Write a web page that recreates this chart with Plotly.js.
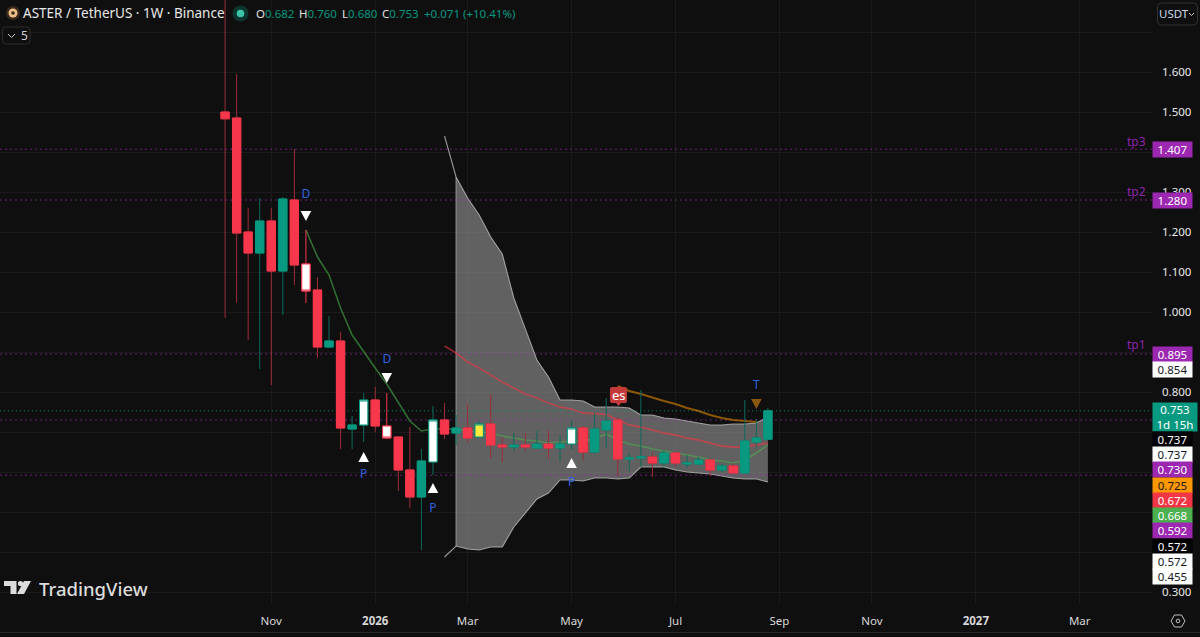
<!DOCTYPE html>
<html>
<head>
<meta charset="utf-8">
<script src="https://cdn.plot.ly/plotly-3.0.1.min.js"></script>
<style>html,body{margin:0;padding:0;background:#0f0f0f;overflow:hidden}#c{width:1200px;height:637px}</style>
</head>
<body>
<div id="c"></div>
<script>
const weeks = ["2025-10-06","2025-10-13","2025-10-20","2025-10-27","2025-11-03","2025-11-10","2025-11-17","2025-11-24","2025-12-01","2025-12-08","2025-12-15","2025-12-22","2025-12-29","2026-01-05","2026-01-12","2026-01-19","2026-01-26","2026-02-02","2026-02-09","2026-02-16","2026-02-23","2026-03-02","2026-03-09","2026-03-16","2026-03-23","2026-03-30","2026-04-06","2026-04-13","2026-04-20","2026-04-27","2026-05-04","2026-05-11","2026-05-18","2026-05-25","2026-06-01","2026-06-08","2026-06-15","2026-06-22","2026-06-29","2026-07-06","2026-07-13","2026-07-20","2026-07-27","2026-08-03","2026-08-10","2026-08-17","2026-08-24","2026-08-31"];
const opens  = [1.5,1.485,1.2,1.1475,1.2275,1.1025,1.28,1.12,1.055,0.9125,0.9275,0.7075,0.7175,0.78,0.715,0.6875,0.605,0.5375,0.625,0.73,0.6975,0.71,0.6875,0.72,0.6675,0.6625,0.6675,0.66,0.67,0.66,0.67,0.71,0.65,0.705,0.73,0.6325,0.635,0.6375,0.6225,0.6475,0.62,0.62,0.63,0.605,0.615,0.5975,0.675,0.682];
const highs  = [1.95,1.595,1.26,1.285,1.26,1.2875,1.4075,1.205,1.0875,0.99,0.95,0.74,0.7975,0.8125,0.7975,0.6875,0.7125,0.6575,0.765,0.7725,0.7425,0.77,0.7275,0.795,0.6875,0.6975,0.6975,0.7025,0.7025,0.6925,0.73,0.715,0.7475,0.785,0.7375,0.645,0.805,0.65,0.655,0.65,0.6425,0.6375,0.6325,0.62,0.6225,0.78,0.7325,0.76];
const lows   = [0.985,1.0225,0.93,0.8575,0.8175,0.9925,1.0675,1.0225,0.885,0.91,0.6575,0.6575,0.675,0.70,0.6825,0.5525,0.51,0.405,0.5925,0.6825,0.6675,0.6725,0.6875,0.635,0.625,0.6525,0.6525,0.66,0.6325,0.625,0.6575,0.63,0.645,0.66,0.59,0.6025,0.6125,0.5875,0.615,0.6125,0.61,0.62,0.59,0.60,0.5975,0.5975,0.6625,0.68];
const closes = [1.483,1.1975,1.1475,1.2275,1.1025,1.2825,1.1175,1.0525,0.9125,0.9275,0.71,0.7175,0.78,0.715,0.685,0.605,0.5375,0.6275,0.73,0.695,0.71,0.685,0.72,0.6675,0.6625,0.6675,0.6625,0.67,0.66,0.67,0.71,0.65,0.7075,0.7275,0.6325,0.635,0.6375,0.6225,0.6475,0.6225,0.6225,0.63,0.605,0.615,0.5975,0.6775,0.685,0.753];
const kinds  = ["r","r","r","t","r","t","r","wr","r","t","r","t","wt","r","wr","r","r","t","wt","r","t","r","y","r","r","t","r","t","r","t","wt","r","t","t","r","t","t","r","t","r","t","t","r","t","r","t","t","t"];

const greenLine  = [1.205,1.1375,1.0925,1.01,0.9425,0.90,0.86,0.82,0.7725,0.7275,0.7025,0.7075,0.7075,0.7075,0.7025,0.70,0.6975,0.69,0.685,0.68,0.6775,0.6725,0.675,0.6775,0.6775,0.6825,0.695,0.68,0.67,0.665,0.6575,0.6525,0.6475,0.6425,0.6375,0.63,0.6275,0.6225,0.63,0.6475,0.668];
const redLine    = [0.915,0.8975,0.875,0.86,0.8425,0.825,0.81,0.795,0.785,0.7725,0.7625,0.7575,0.7475,0.745,0.744,0.73,0.7175,0.7125,0.705,0.6975,0.6925,0.685,0.68,0.6725,0.665,0.6625,0.6625,0.6675,0.672];
const orangeLine = [0.815,0.8025,0.795,0.786,0.7775,0.77,0.76,0.7525,0.7425,0.735,0.73,0.7275,0.725];
const bandUpper  = [1.44,1.3375,1.285,1.2425,1.1875,1.145,1.035,0.955,0.88,0.8375,0.78,0.78,0.7775,0.7625,0.7625,0.7625,0.76,0.7425,0.7425,0.735,0.7325,0.7275,0.7225,0.7175,0.7175,0.72,0.72,0.7225,0.7375];
const bandLower  = [0.3875,0.415,0.4075,0.405,0.4125,0.4125,0.4625,0.4975,0.5325,0.5475,0.58,0.58,0.5775,0.585,0.585,0.5825,0.585,0.6125,0.6125,0.6125,0.605,0.60,0.5975,0.595,0.59,0.585,0.5825,0.5825,0.575];

const levelPurple = [1.407,1.28,0.895,0.73,0.592];
const levelTeal = [0.753];

const tickDates = ["2025-11-03","2026-01-05","2026-03-02","2026-05-04","2026-07-06","2026-09-07","2026-11-02","2027-01-04","2027-03-08"];
const tickNames = ["Nov","<b>2026</b>","Mar","May","Jul","Sep","Nov","<b>2027</b>","Mar"];
const priceTicks = [0.3,0.4,0.5,0.6,0.7,0.8,0.9,1.0,1.1,1.2,1.3,1.4,1.5,1.6,1.7];
const priceNames = ["0.300","","","","","0.800","","1.000","1.100","1.200","1.300","","1.500","1.600",""];

const tagText = ["1.407","1.280","0.895","0.854","0.737","0.737","0.730","0.725","0.672","0.668","0.592","0.572","0.572","0.455"];
const tagPx   = [149.5,200,354,369,439,454.5,469.5,485,500.5,515.5,530.5,546,561.5,576.5];
const tagBg   = ["#9c27b0","#9c27b0","#9c27b0","#ffffff","#000000","#ffffff","#9c27b0","#ff9800","#f23645","#4caf50","#9c27b0","#000000","#ffffff","#ffffff"];
const tagFg   = ["#fff","#fff","#fff","#131722","#fff","#131722","#fff","#131722","#fff","#fff","#fff","#fff","#131722","#131722"];
const tpNames = ["tp3","tp2","tp1"];
const tpPx    = [141,191,344];

const downIdx = [7,14], downVal = [1.24,0.835], downText = ["D","D"], downTextVal = [1.2925,0.88];
const upIdx = [12,18,30], upVal = [0.6375,0.56,0.6225], upText = ["P","P","P"], upTextVal = [0.5925,0.5075,0.5725];
const exitIdx = [46], exitVal = [0.77], exitTextVal = [0.815];

const xRange = ["2025-05-22 14:00","2027-04-20 19:00"];
const yRange = [0.2675,1.78];
const PW = 1152, PH = 605;
const fontFam = '"Noto Sans", "Open Sans", sans-serif';
const C = {r:"#f7374c", t:"#089981", wickR:"#9c2d3a", wickT:"#0d6a5b"};
const styleOf = {
  r:{fill:C.r, line:C.r, wick:C.wickR},
  t:{fill:C.t, line:C.t, wick:C.wickT},
  wr:{fill:"#ffffff", line:C.r, wick:C.r},
  wt:{fill:"#ffffff", line:C.t, wick:C.wickT},
  y:{fill:"#ffeb3b", line:C.t, wick:C.wickT}
};
function pick(arr,idx){return idx.map(function(i){return arr[i];});}
function candle(x,o,h,l,c,line,fill){
  return {type:"candlestick",xaxis:"x2",yaxis:"y2",x:x,open:o,high:h,low:l,close:c,whiskerwidth:0,hoverinfo:"skip",showlegend:false,
    increasing:{line:{color:line,width:1},fillcolor:fill},
    decreasing:{line:{color:line,width:1},fillcolor:fill}};
}
const traces = [];
// band and indicator lines on the base subplot, under the candles
traces.push({type:"scatter",mode:"none",x:weeks.slice(20,48).concat(weeks.slice(20,48).reverse()),
  y:bandUpper.slice(1).concat(bandLower.slice(1).reverse()),fill:"toself",fillcolor:"rgba(152,152,152,0.6)",hoverinfo:"skip",showlegend:false});
traces.push({type:"scatter",mode:"lines",x:[weeks[20],weeks[20]],y:[bandUpper[1],bandLower[1]],line:{color:"rgba(170,170,170,0.55)",width:1.5},hoverinfo:"skip",showlegend:false});
[bandUpper,bandLower].forEach(function(s){
  traces.push({type:"scatter",mode:"lines",x:weeks.slice(19),y:s,line:{color:"rgba(190,190,190,0.78)",width:1.1},hoverinfo:"skip",showlegend:false});
});
levelPurple.forEach(function(v){traces.push({type:"scatter",mode:"lines",x:xRange,y:[v,v],line:{color:"rgba(156,39,176,0.62)",width:1,dash:"2px,3px"},hoverinfo:"skip",showlegend:false});});
levelTeal.forEach(function(v){traces.push({type:"scatter",mode:"lines",x:xRange,y:[v,v],line:{color:"rgba(8,153,129,0.75)",width:1,dash:"1px,3px"},hoverinfo:"skip",showlegend:false});});
traces.push({type:"scatter",mode:"lines",x:weeks.slice(7),y:greenLine,line:{color:"rgba(76,175,80,0.58)",width:1.6},hoverinfo:"skip",showlegend:false});
traces.push({type:"scatter",mode:"lines",x:weeks.slice(19),y:redLine,line:{color:"rgba(242,54,69,0.58)",width:1.8},hoverinfo:"skip",showlegend:false});
traces.push({type:"scatter",mode:"lines",x:weeks.slice(34,47),y:orangeLine,line:{color:"rgba(255,152,0,0.52)",width:2},hoverinfo:"skip",showlegend:false});
// wicks then bodies, per style, on an overlaid subplot so they sit above the lines
Object.keys(styleOf).forEach(function(k){
  const idx = kinds.map(function(v,i){return v===k?i:-1;}).filter(function(i){return i>=0;});
  traces.push(candle(pick(weeks,idx),pick(opens,idx),pick(highs,idx),pick(lows,idx),pick(closes,idx),styleOf[k].wick,"rgba(0,0,0,0)"));
});
Object.keys(styleOf).forEach(function(k){
  const idx = kinds.map(function(v,i){return v===k?i:-1;}).filter(function(i){return i>=0;});
  const o = pick(opens,idx), c = pick(closes,idx);
  traces.push(candle(pick(weeks,idx),o,o.map(function(v,j){return Math.max(v,c[j]);}),o.map(function(v,j){return Math.min(v,c[j]);}),c,styleOf[k].line,styleOf[k].fill));
});
function tx(idx,val,t){return {type:"scatter",xaxis:"x2",yaxis:"y2",mode:"text",x:pick(weeks,idx),y:val,text:t,textposition:"middle center",textfont:{family:fontFam,size:12,color:"#2f62e0"},hoverinfo:"skip",showlegend:false};}
traces.push(tx(downIdx,downTextVal,downText),tx(upIdx,upTextVal,upText),tx(exitIdx,exitTextVal,["T"]));

// pixel helpers for decorations
function X(px){return px/PW;}
function Y(py){return 1-py/PH;}
function pt(px,py){return X(px)+" "+Y(py);}
function rr(x0,y0,x1,y1,r){
  return "M"+pt(x0+r,y0)+" L"+pt(x1-r,y0)+" Q"+pt(x1,y0)+" "+pt(x1,y0+r)+" L"+pt(x1,y1-r)+" Q"+pt(x1,y1)+" "+pt(x1-r,y1)+" L"+pt(x0+r,y1)+" Q"+pt(x0,y1)+" "+pt(x0,y1-r)+" L"+pt(x0,y0+r)+" Q"+pt(x0,y0)+" "+pt(x0+r,y0)+" Z";
}
function poly(p){return "M"+p.map(function(q){return pt(q[0],q[1]);}).join(" L")+" Z";}
function circle(cx,cy,r,fill,lw,lc){return {type:"circle",xref:"paper",yref:"paper",x0:X(cx-r),x1:X(cx+r),y0:Y(cy+r),y1:Y(cy-r),fillcolor:fill,line:{width:lw||0,color:lc||fill},layer:"above"};}
function pth(d,fill,lw,lc){return {type:"path",xref:"paper",yref:"paper",path:d,fillcolor:fill,line:{width:lw||0,color:lc||fill},layer:"above"};}
function tri(i,v,dir,col){
  return {type:"path",xref:"x2",yref:"y2",xsizemode:"pixel",ysizemode:"pixel",xanchor:weeks[i],yanchor:v,
    path: dir<0 ? "M -5.3 5 L 5.3 5 L 0 -5 Z" : "M -5.3 -5 L 5.3 -5 L 0 5 Z",fillcolor:col,line:{width:0},layer:"above"};
}

const shapes = [];
downIdx.forEach(function(i,j){shapes.push(tri(i,downVal[j],-1,"#ffffff"));});
upIdx.forEach(function(i,j){shapes.push(tri(i,upVal[j],1,"#ffffff"));});
exitIdx.forEach(function(i,j){shapes.push(tri(i,exitVal[j],-1,"#8a5710"));});
// bottom rule
shapes.push({type:"line",xref:"paper",yref:"paper",x0:0,x1:1200/PW,y0:Y(632.5),y1:Y(632.5),line:{color:"#2a2a2a",width:1},layer:"above"});
// es badge
shapes.push(pth(rr(610,387,627,403,2),"#c43a3a"));
shapes.push(pth(poly([[616,403],[621,403],[618.5,406]]),"#c43a3a"));
// currency + collapse buttons
shapes.push(pth(rr(1157.5,3,1197.5,25,4),"#0f0f0f",1,"#333333"));
shapes.push(pth(rr(2.5,27,30,44,3),"#0f0f0f",1,"#2c2c2c"));
shapes.push({type:"path",xref:"paper",yref:"paper",path:"M"+pt(8,34)+" L"+pt(11.5,37.5)+" L"+pt(15,34),line:{color:"#c8c8c8",width:1}, layer:"above"});
shapes.push({type:"path",xref:"paper",yref:"paper",path:"M"+pt(1189,13)+" L"+pt(1191.5,15.5)+" L"+pt(1194,13),line:{color:"#c8c8c8",width:1}, layer:"above"});
// header dots
shapes.push(circle(13,13,7,"#3a2a1c"),circle(13,13,4.5,"#f0c088"),circle(13,13,1.8,"#3a2a1c"));
shapes.push(circle(240.5,13.5,8,"rgba(8,153,129,0.28)"),circle(240.5,13.5,3.8,"#3cc4a8"));
// TradingView mark
shapes.push(pth(poly([[4,581],[16.5,581],[16.5,594],[10.5,594],[10.5,586],[4,586]]),"#dcdcdc"));
shapes.push(circle(20.5,583.5,2.6,"#dcdcdc"));
shapes.push(pth(poly([[24,581],[31,581],[24,594],[17,594]]),"#dcdcdc"));
// settings hexagon
shapes.push(pth(poly([[1171,621],[1174.5,615],[1181.5,615],[1185,621],[1181.5,627],[1174.5,627]]),"rgba(0,0,0,0)",1,"#c0c0c0"));
shapes.push(circle(1178,621,1.8,"rgba(0,0,0,0)",1,"#c0c0c0"));

const annos = [];
function note(px,py,text,size,color,anchor,extra){
  const a = Object.assign({xref:"paper",yref:"paper",x:X(px),y:Y(py),text:text,showarrow:false,xanchor:anchor||"left",yanchor:"middle",borderpad:0,font:{family:fontFam,size:size,color:color}},extra||{});
  annos.push(a);
}
const val = '<span style="color:#089981">';
note(22,13.5,"ASTER / TetherUS · 1W · Binance",13.5,"#e8e8e8");
note(255,13.5,"O"+val+"0.682</span>",11.5,"#e0e0e0");
note(298,13.5,"H"+val+"0.760</span>",11.5,"#e0e0e0");
note(341,13.5,"L"+val+"0.680</span>",11.5,"#e0e0e0");
note(381,13.5,"C"+val+"0.753</span>",11.5,"#e0e0e0");
note(423,13.5,val+"+0.071 (+10.41%)</span>",11.5,"#e0e0e0");
note(20,35.5,"5",12,"#cfcfcf");
note(1177,14,"USDT",11.5,"#c9d6ea","center",{xshift:-3});
note(38,588,"TradingView",18.5,"#dcdcdc",null,{font:{family:fontFam,size:18.5,color:"#dcdcdc",weight:500}});
note(618.5,395,"es",13,"#ffffff","center");
note(1175,417,"0.753<br>1d 15h",11.5,"#ffffff","center",{width:44,height:28,bgcolor:"#089981",align:"center"});
tagText.forEach(function(t,i){
  note(1172.5,tagPx[i],t,11.5,tagFg[i],"center",{width:39,height:15,bgcolor:tagBg[i],align:"center"});
});
tpNames.forEach(function(t,i){note(1147,tpPx[i],t,12,"#8e24aa","right");});

const hiddenX = {type:"date",overlaying:"x",range:xRange,visible:false,rangeslider:{visible:false},fixedrange:true,anchor:"y2"};
const hiddenY = {overlaying:"y",range:yRange,visible:false,fixedrange:true,anchor:"x2"};
Plotly.newPlot("c",traces,{
  width:1200,height:637,
  margin:{l:0,r:48,t:0,b:32,pad:0},
  paper_bgcolor:"#0f0f0f",plot_bgcolor:"#0f0f0f",
  showlegend:false,boxgap:0.28,boxgroupgap:0,boxmode:"overlay",
  font:{family:fontFam,color:"#d8d8d8",size:12},
  xaxis:{type:"date",range:xRange,rangeslider:{visible:false},tickmode:"array",tickvals:tickDates,ticktext:tickNames,ticks:"",showline:false,zeroline:false,gridcolor:"#1a1a1a",gridwidth:1,tickfont:{family:fontFam,size:11.5,color:"#d8d8d8"},ticklabelstandoff:7,fixedrange:true},
  yaxis:{range:yRange,side:"right",tickmode:"array",tickvals:priceTicks,ticktext:priceNames,ticks:"",showline:false,zeroline:false,gridcolor:"#1a1a1a",gridwidth:1,tickfont:{family:fontFam,size:11.5,color:"#e8e8e8"},ticklabelstandoff:9,fixedrange:true},
  xaxis2:hiddenX,yaxis2:hiddenY,
  shapes:shapes,annotations:annos
},{staticPlot:true,displayModeBar:false});
</script>
</body>
</html>
